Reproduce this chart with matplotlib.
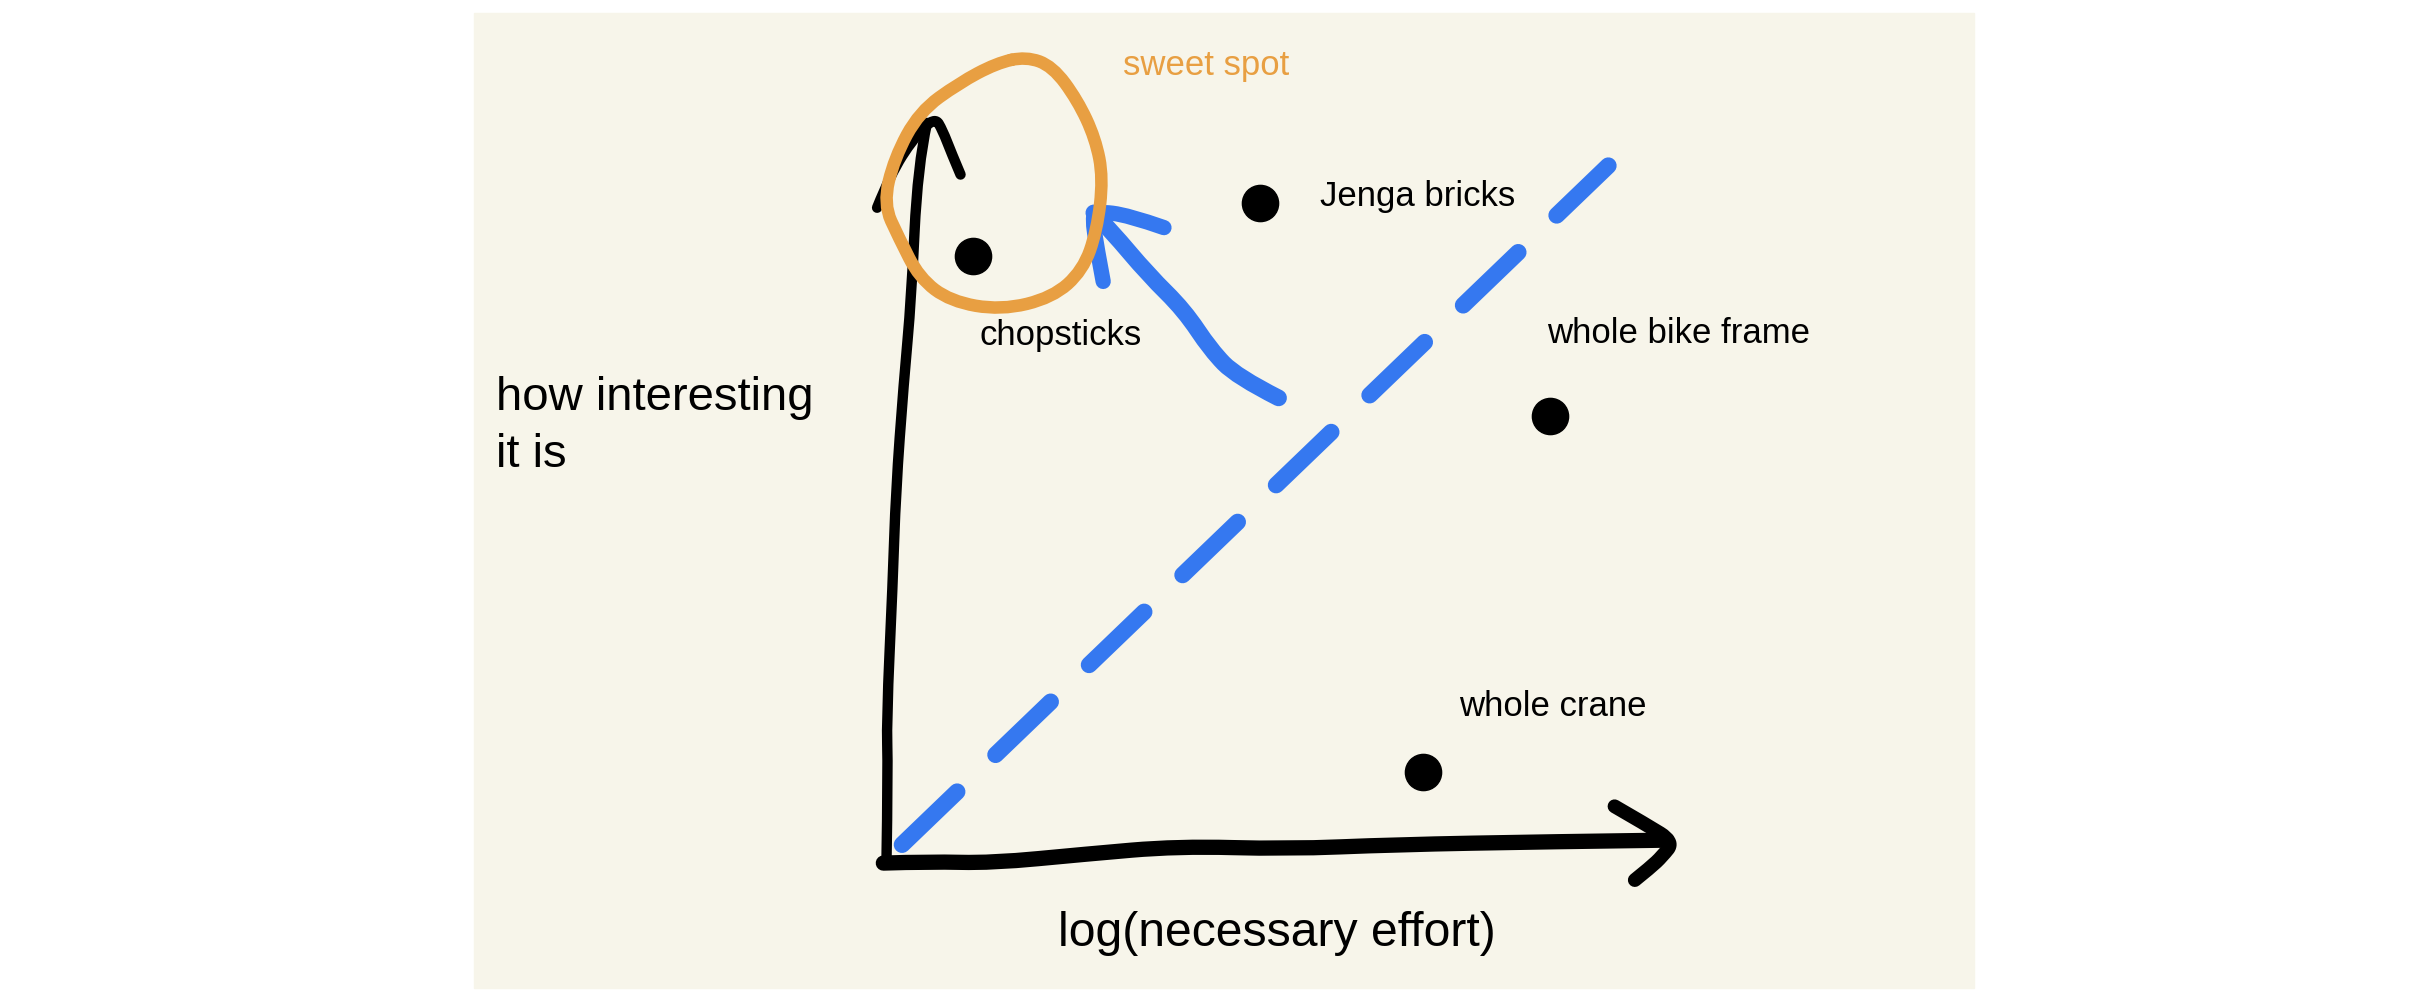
import matplotlib
matplotlib.use("Agg")
import matplotlib.pyplot as plt
from matplotlib.patches import Rectangle, PathPatch
from matplotlib.path import Path

plt.rcParams['font.family'] = ['Liberation Sans', 'DejaVu Sans']
plt.rcParams['lines.scale_dashes'] = False

# things on the chart (x = log effort, y = how interesting, both 0..10)
items = ["chopsticks", "Jenga bricks", "whole bike frame", "whole crane"]
effort = [1.11, 4.79, 8.51, 6.88]
interest = [8.19, 8.92, 6.02, 1.19]
label_x = [2.23, 6.82, 10.16, 8.55]
label_y = [7.12, 9.0, 7.14, 2.08]

# hand-drawn strokes (control points)
y_axis_x = [0.0, 0.02, 0.0, 0.08, 0.12, 0.22, 0.32, 0.40, 0.52]
y_axis_y = [-0.04, 1.25, 1.88, 3.75, 5.0, 6.46, 7.63, 9.42, 10.0]
y_head_x = [-0.12, 0.05, 0.35, 0.62, 0.72, 0.83, 0.95]
y_head_y = [8.85, 9.3, 9.8, 10.08, 9.9, 9.6, 9.3]
x_axis_x = [-0.04, 0.56, 1.35, 2.54, 3.74, 5.13, 6.52, 8.51, 9.94]
x_axis_y = [-0.04, -0.02, -0.04, 0.08, 0.19, 0.15, 0.21, 0.25, 0.27]
x_head_x = [9.34, 9.75, 10.1, 9.95, 9.8, 9.6]
x_head_y = [0.73, 0.48, 0.25, 0.05, -0.1, -0.27]
trend_x = [0.2, 9.26]
trend_y = [0.21, 9.42]
pointer_x = [5.03, 4.49, 4.16, 3.82, 3.36, 2.88, 2.66]
pointer_y = [6.27, 6.56, 6.92, 7.46, 7.94, 8.54, 8.78]
pointer_head_x = [2.78, 2.70, 2.64, 2.7, 3.1, 3.56]
pointer_head_y = [7.85, 8.3, 8.72, 8.8, 8.75, 8.58]
spot_x = [1.79, 2.13, 2.45, 2.68, 2.78, 2.70, 2.52, 2.13, 1.47, 0.82, 0.42,
          0.16, -0.04, 0.10, 0.42, 0.93, 1.41]
spot_y = [10.90, 10.77, 10.31, 9.79, 9.25, 8.54, 8.0, 7.63, 7.46, 7.58, 7.90,
          8.44, 8.90, 9.52, 10.15, 10.54, 10.81]

BLUE = "#3578f0"
ORANGE = "#e89f42"


def smooth_path(xs, ys, closed=False):
    pts = list(zip(xs, ys))
    if closed:
        pts = pts + pts[:1]
        mids = [((a[0] + b[0]) / 2, (a[1] + b[1]) / 2)
                for a, b in zip(pts[:-1], pts[1:])]
        verts = [mids[-1]]
        codes = [Path.MOVETO]
        for i, m in enumerate(mids):
            verts += [pts[i], m]
            codes += [Path.CURVE3, Path.CURVE3]
        return Path(verts, codes)
    verts = [pts[0]]
    codes = [Path.MOVETO]
    for i in range(1, len(pts) - 1):
        m = ((pts[i][0] + pts[i + 1][0]) / 2, (pts[i][1] + pts[i + 1][1]) / 2)
        if i == len(pts) - 2:
            m = pts[-1]
        verts += [pts[i], m]
        codes += [Path.CURVE3, Path.CURVE3]
    return Path(verts, codes)


def draw_stroke(ax, xs, ys, color, lw, closed=False):
    patch = PathPatch(smooth_path(xs, ys, closed), facecolor="none",
                      edgecolor=color, lw=lw, capstyle="round",
                      joinstyle="round", clip_on=False)
    ax.add_patch(patch)


fig = plt.figure(figsize=(24.3, 10.06), dpi=100)
bg = Rectangle((0.1951, 0.0179), 0.6173, 0.9692, transform=fig.transFigure,
               color="#f7f5ea", zorder=-10)
fig.add_artist(bg)

ax = fig.add_axes([0.3648, 0.1450, 0.3208, 0.7328])
ax.set_xlim(0, 10)
ax.set_ylim(0, 10)
ax.axis("off")

draw_stroke(ax, y_axis_x, y_axis_y, "black", 7.5)
draw_stroke(ax, y_head_x, y_head_y, "black", 7.5)
draw_stroke(ax, x_axis_x, x_axis_y, "black", 11)
draw_stroke(ax, x_head_x, x_head_y, "black", 10)

ax.plot(trend_x, trend_y, color=BLUE, lw=12, linestyle=(0, (55, 38.4)),
        dash_capstyle="round", clip_on=False)
draw_stroke(ax, pointer_x, pointer_y, BLUE, 12)
draw_stroke(ax, pointer_head_x, pointer_head_y, BLUE, 11)

draw_stroke(ax, spot_x, spot_y, ORANGE, 9, closed=True)
ax.text(4.10, 10.78, "sweet spot", color=ORANGE, fontsize=25,
        ha="center", va="center")

ax.scatter(effort, interest, s=680, color="black", zorder=5, clip_on=False)
for name, lx, ly in zip(items, label_x, label_y):
    ax.text(lx, ly, name, fontsize=25, ha="center", va="center")

ax.text(-5.01, 5.88, "how interesting\nit is", fontsize=34, ha="left",
        va="center", linespacing=1.4)
ax.text(5.01, -1.0, "log(necessary effort)", fontsize=34.7, ha="center",
        va="center")

fig.savefig("out.png", dpi=100)
